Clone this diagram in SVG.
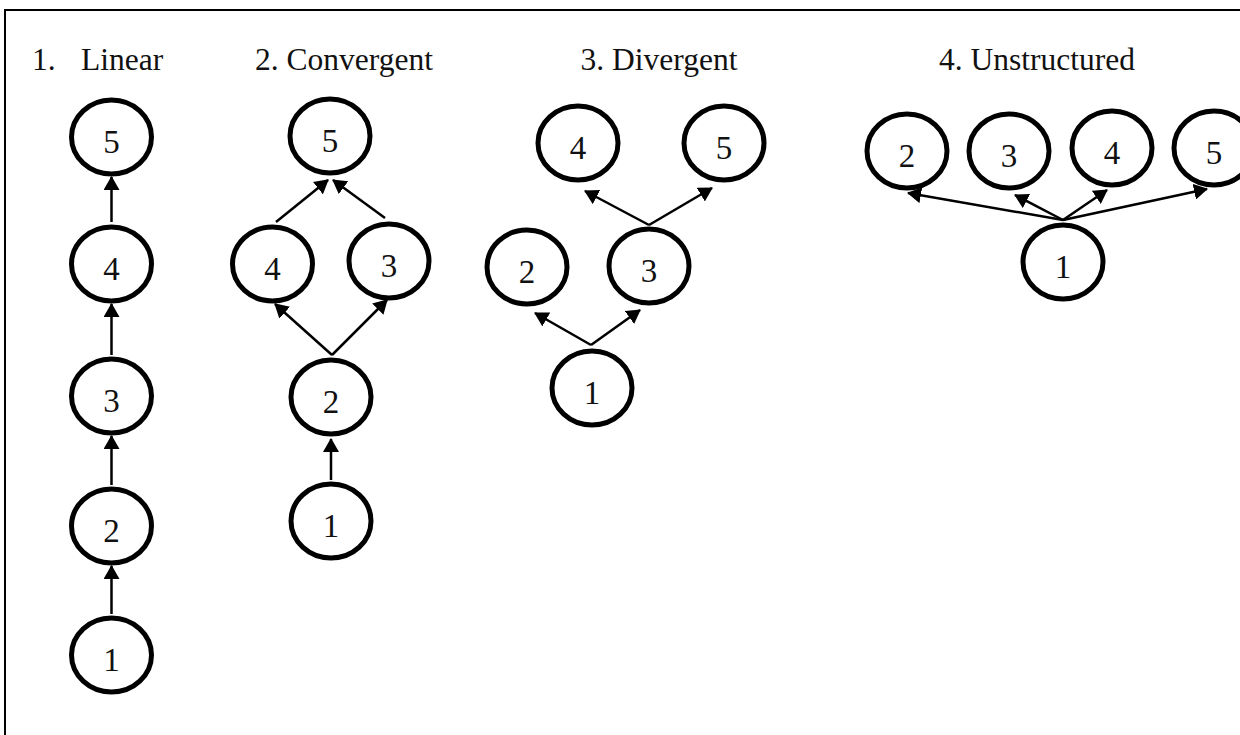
<svg xmlns="http://www.w3.org/2000/svg" width="1240" height="735" viewBox="0 0 1240 735">
<style>
.n ellipse{fill:#fff;stroke:#000;stroke-width:5}
.n text{font-family:"Liberation Serif","Times New Roman",serif;font-size:33px;text-anchor:middle;fill:#111}
.t{font-family:"Liberation Serif","Times New Roman",serif;font-size:31.5px;fill:#111}
#edges line{stroke:#000;stroke-width:2.5;marker-end:url(#ah)}
</style>
<defs>
<marker id="ah" viewBox="0 0 14 16" refX="13" refY="8" markerWidth="14" markerHeight="16" markerUnits="userSpaceOnUse" orient="auto">
<path d="M0,0 L14,8 L0,16 z" fill="#000"/>
</marker>
</defs>
<rect width="1240" height="735" fill="#fff"/>
<path d="M5,735 V10 H1240" fill="none" stroke="#000" stroke-width="2"/>
<g id="titles">
<text class="t" x="32" y="70">1.</text>
<text class="t" x="81" y="70">Linear</text>
<text class="t" x="344" y="70" text-anchor="middle">2. Convergent</text>
<text class="t" x="659" y="70" text-anchor="middle">3. Divergent</text>
<text class="t" x="1037" y="70" text-anchor="middle">4. Unstructured</text>
</g>
<g id="edges">
<line x1="111.5" y1="222" x2="111.5" y2="177"/>
<line x1="111.5" y1="355" x2="111.5" y2="304"/>
<line x1="111.5" y1="485" x2="111.5" y2="436"/>
<line x1="111.5" y1="614" x2="111.5" y2="566"/>
<line x1="276" y1="222" x2="328" y2="180"/>
<line x1="385" y1="218" x2="333" y2="180"/>
<line x1="332" y1="355" x2="275" y2="304"/>
<line x1="332" y1="355" x2="387" y2="300"/>
<line x1="331" y1="480" x2="331" y2="439"/>
<line x1="649" y1="225" x2="585" y2="191"/>
<line x1="649" y1="225" x2="712" y2="188"/>
<line x1="591" y1="345" x2="535" y2="313"/>
<line x1="591" y1="345" x2="640" y2="310"/>
<line x1="1063" y1="220" x2="908" y2="193"/>
<line x1="1063" y1="220" x2="1015" y2="195"/>
<line x1="1063" y1="220" x2="1107" y2="190"/>
<line x1="1063" y1="220" x2="1207" y2="189"/>
</g>
<g id="lin-5" class="n"><ellipse cx="111.5" cy="137" rx="40" ry="37"/><text x="111.5" y="153">5</text></g>
<g id="lin-4" class="n"><ellipse cx="111.5" cy="264" rx="40" ry="37"/><text x="111.5" y="280">4</text></g>
<g id="lin-3" class="n"><ellipse cx="111.5" cy="396" rx="40" ry="37"/><text x="111.5" y="412">3</text></g>
<g id="lin-2" class="n"><ellipse cx="111.5" cy="526" rx="40" ry="37"/><text x="111.5" y="542">2</text></g>
<g id="lin-1" class="n"><ellipse cx="111.5" cy="655" rx="40" ry="37"/><text x="111.5" y="671">1</text></g>
<g id="con-5" class="n"><ellipse cx="330" cy="136" rx="40" ry="37"/><text x="330" y="152">5</text></g>
<g id="con-4" class="n"><ellipse cx="272.5" cy="264" rx="40" ry="37"/><text x="272.5" y="280">4</text></g>
<g id="con-3" class="n"><ellipse cx="389" cy="261" rx="40" ry="37"/><text x="389" y="277">3</text></g>
<g id="con-2" class="n"><ellipse cx="331" cy="397" rx="40" ry="37"/><text x="331" y="413">2</text></g>
<g id="con-1" class="n"><ellipse cx="331" cy="521" rx="40" ry="37"/><text x="331" y="537">1</text></g>
<g id="div-4" class="n"><ellipse cx="578" cy="143" rx="40" ry="37"/><text x="578" y="159">4</text></g>
<g id="div-5" class="n"><ellipse cx="724" cy="143" rx="40" ry="37"/><text x="724" y="159">5</text></g>
<g id="div-2" class="n"><ellipse cx="527" cy="267" rx="40" ry="37"/><text x="527" y="283">2</text></g>
<g id="div-3" class="n"><ellipse cx="649" cy="266" rx="40" ry="37"/><text x="649" y="282">3</text></g>
<g id="div-1" class="n"><ellipse cx="592" cy="388" rx="40" ry="37"/><text x="592" y="404">1</text></g>
<g id="uns-2" class="n"><ellipse cx="907" cy="151" rx="40" ry="37"/><text x="907" y="167">2</text></g>
<g id="uns-3" class="n"><ellipse cx="1009" cy="151" rx="40" ry="37"/><text x="1009" y="167">3</text></g>
<g id="uns-4" class="n"><ellipse cx="1112" cy="148" rx="40" ry="37"/><text x="1112" y="164">4</text></g>
<g id="uns-5" class="n"><ellipse cx="1214" cy="148" rx="40" ry="37"/><text x="1214" y="164">5</text></g>
<g id="uns-1" class="n"><ellipse cx="1063" cy="262" rx="40" ry="37"/><text x="1063" y="278">1</text></g>
</svg>
